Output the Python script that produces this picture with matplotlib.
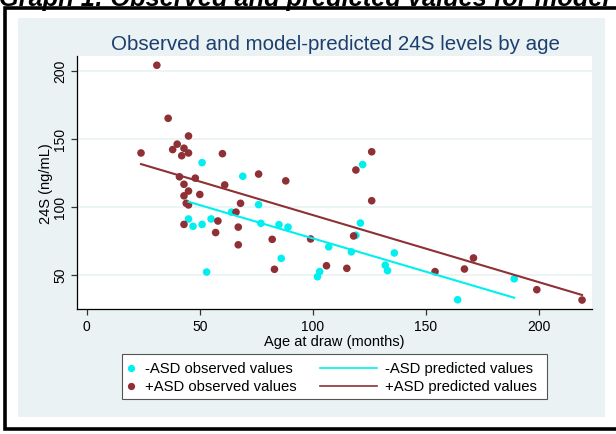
import matplotlib
matplotlib.use("Agg")
import matplotlib.pyplot as plt
from matplotlib.patches import Rectangle
from matplotlib.lines import Line2D
import numpy as np

plt.rcParams['font.family'] = ['Liberation Sans', 'DejaVu Sans']

# Observed 24S levels, children without ASD
neg_age = [51, 69, 76, 64, 45, 47, 51, 55, 77, 85, 53, 86, 89, 122, 121, 119,
           107, 117, 136, 132, 133, 103, 102, 189, 164]
neg_24s = [132.4, 122.4, 101.5, 96, 91, 85.6, 87, 91, 87.8, 86.8, 52, 62, 85,
           131, 88, 79, 70.5, 66.8, 66, 57, 53, 52.3, 48.5, 47, 31.6]

# Observed 24S levels, children with ASD
pos_age = [31, 36, 45, 40, 38, 43, 45, 42, 24, 60, 76, 41, 48, 43, 61, 45, 50,
           43, 44, 45, 68, 66, 58, 43, 67, 57, 67, 82, 83, 126, 119, 88, 126,
           99, 118, 106, 115, 154, 171, 167, 199, 219]
pos_24s = [204, 165, 152, 146, 142, 143, 139.5, 137.5, 139.5, 139, 124, 122,
           121, 116.5, 116, 111.5, 109, 108, 102.5, 101.3, 102.5, 96, 89.5, 87,
           85, 81, 72, 76, 54, 140.4, 127, 119, 104.4, 76.3, 78.5, 56.6, 54.7,
           52.3, 62.3, 54.2, 39, 31.4]

# Linear model: intercept and slope per group
neg_coef = (125.7, -0.490)
pos_coef = (143.2, -0.4936)

x_ticks = [0, 50, 100, 150, 200]
y_ticks = [50, 100, 150, 200]

legend_labels = ["-ASD observed values", "+ASD observed values",
                 "-ASD predicted values", "+ASD predicted values"]

CYAN = '#00F0F0'
MAROON = '#8E3035'
PANEL = '#EAF2F3'
TITLE = '#1C3F6E'

W, H = 616, 435
fig = plt.figure(figsize=(W / 100, H / 100), dpi=100)
fig.patch.set_facecolor('white')


def fx(px):
    return px / W


def fy(py):
    return 1 - py / H


# caption above the framed graph
fig.text(fx(-1), fy(6), "Graph 1: Observed and predicted values for model",
         fontsize=18.3, fontweight='bold', fontstyle='italic', color='black',
         ha='left', va='baseline')

# outer black frame
fig.patches.append(Rectangle((fx(5), fy(430)), fx(630) - fx(5), fy(9) - fy(430),
                             transform=fig.transFigure, facecolor='white',
                             edgecolor='black', linewidth=2.6, zorder=-10))
# graph region
fig.patches.append(Rectangle((fx(18), fy(418)), fx(605) - fx(18), fy(19) - fy(418),
                             transform=fig.transFigure, facecolor=PANEL,
                             edgecolor='none', zorder=-9))

ax_l, ax_r, ax_t, ax_b = 77, 592, 57, 310
ax = fig.add_axes([fx(ax_l), fy(ax_b), fx(ax_r) - fx(ax_l), fy(ax_t) - fy(ax_b)])
ax.set_facecolor('white')

ax.set_xlim(-4.3, 223.4)
ax.set_ylim(24.8, 210.8)

for yv in y_ticks:
    ax.axhline(yv, color=PANEL, linewidth=1.2, zorder=1)

ax.scatter(neg_age, neg_24s, s=30, color=CYAN, edgecolors='none', zorder=3)
ax.scatter(pos_age, pos_24s, s=30, color=MAROON, edgecolors='none', zorder=3)

neg_x = np.array([min(neg_age), max(neg_age)])
pos_x = np.array([min(pos_age), max(pos_age)])
ax.plot(neg_x, neg_coef[0] + neg_coef[1] * neg_x, color=CYAN, linewidth=1.5, zorder=4)
ax.plot(pos_x, pos_coef[0] + pos_coef[1] * pos_x, color=MAROON, linewidth=1.5, zorder=4)

for side in ('top', 'right'):
    ax.spines[side].set_visible(False)
for side in ('left', 'bottom'):
    ax.spines[side].set_color('black')
    ax.spines[side].set_linewidth(0.9)

ax.set_xticks(x_ticks)
ax.set_yticks(y_ticks)
ax.set_xticklabels([str(v) for v in x_ticks])
ax.set_yticklabels([str(v) for v in y_ticks], rotation=90, va='center')
ax.tick_params(axis='both', direction='out', length=4, width=0.9,
               color='#333333', labelsize=10, labelcolor='black', pad=3)

ax.set_xlabel("Age at draw (months)", fontsize=10.5, labelpad=1)
ax.set_ylabel("24S (ng/mL)", fontsize=10.5, labelpad=0)

fig.text(fx(335), fy(45), "Observed and model-predicted 24S levels by age",
         fontsize=14.8, color=TITLE, ha='center', va='center')

# legend box with two columns: markers on the left, fitted lines on the right
leg_l, leg_r, leg_t, leg_b = 122, 547, 355, 400
fig.patches.append(Rectangle((fx(leg_l), fy(leg_b)), fx(leg_r) - fx(leg_l),
                             fy(leg_t) - fy(leg_b), transform=fig.transFigure,
                             facecolor='white', edgecolor='#555555',
                             linewidth=0.8, zorder=-8))
rows = [369, 387]
for i, (color, row) in enumerate(zip([CYAN, MAROON], rows)):
    fig.add_artist(Line2D([fx(131)], [fy(row)], marker='o', markersize=4.2,
                          color=color, linestyle='none',
                          transform=fig.transFigure))
    fig.text(fx(145), fy(row), legend_labels[i], fontsize=10.7,
             ha='left', va='center', color='black')
    fig.add_artist(Line2D([fx(320), fx(377)], [fy(row), fy(row)], color=color,
                          linewidth=1.2, transform=fig.transFigure))
    fig.text(fx(385), fy(row), legend_labels[i + 2], fontsize=10.7,
             ha='left', va='center', color='black')

fig.savefig("out.png", dpi=100, facecolor='white')
